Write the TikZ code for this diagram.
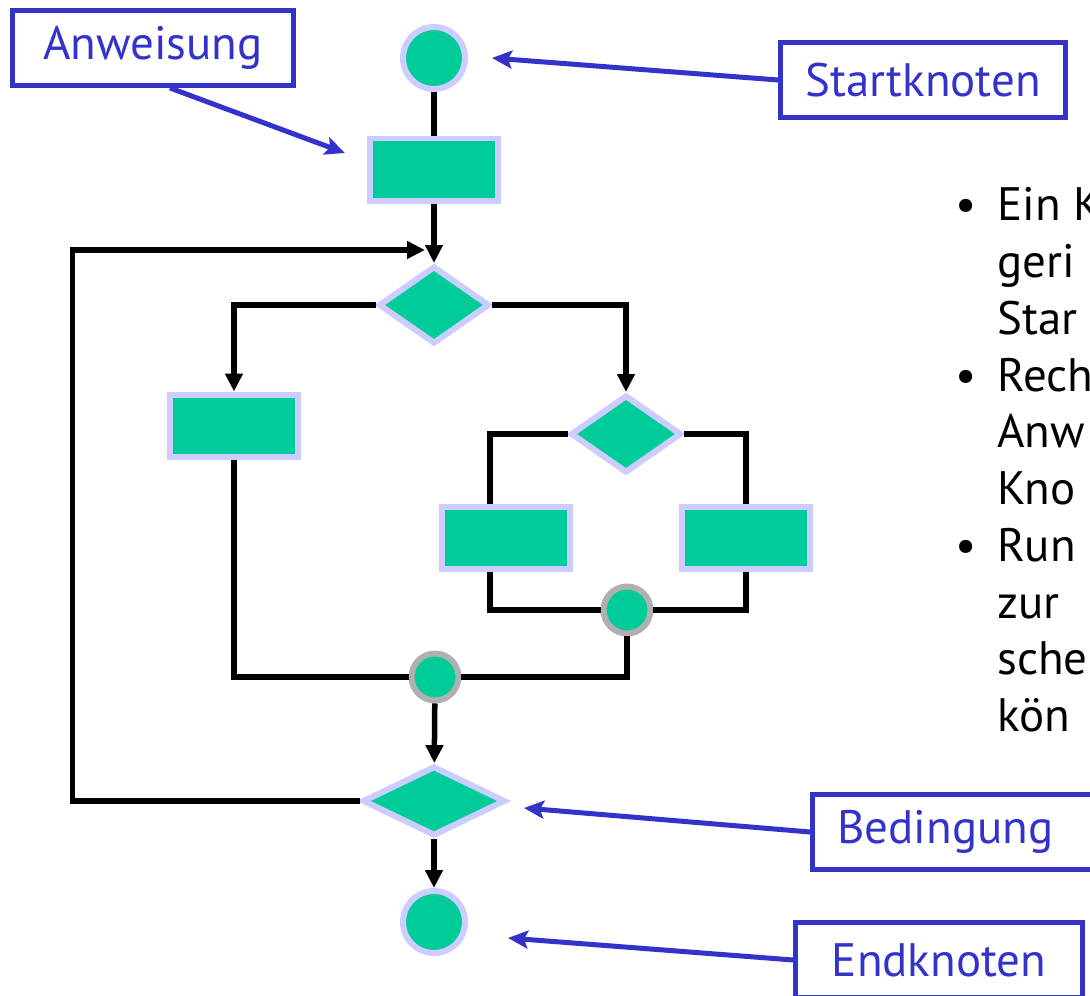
\documentclass[tikz,border=0pt]{standalone}
\usepackage{fontspec}
\setmainfont{PT Sans}
\usepackage{xcolor}
\usepackage{tikz}
\usetikzlibrary{shapes.geometric, arrows.meta, positioning}

\definecolor{flgreen}{HTML}{00CC99}
\definecolor{flrim}{HTML}{CCCCFF}
\definecolor{flgray}{HTML}{B0B0B0}
\definecolor{flblue}{HTML}{3333CC}

\begin{document}
\begin{tikzpicture}[
            x=0.02cm, y=-0.02cm,
            font=\fontsize{26.7}{32.3}\selectfont,
            act/.style={rectangle, draw=flrim, fill=flgreen, line width=0.12cm, minimum width=2.56cm, minimum height=1.26cm},
            cond/.style={diamond, draw=flrim, fill=flgreen, line width=0.12cm, inner sep=0pt, minimum width=2.22cm, minimum height=1.56cm},
            term/.style={circle, draw=flrim, fill=flgreen, line width=0.12cm, inner sep=0pt, minimum size=1.24cm},
            merge/.style={circle, draw=flgray, fill=flgreen, line width=0.12cm, inner sep=0pt, minimum size=0.94cm},
            link/.style={line width=0.11cm},
            flow/.style={line width=0.11cm, -{Triangle[length=0.36cm, width=0.34cm]}},
            note/.style={rectangle, draw=flblue, line width=0.1cm, text=flblue, fill=white, minimum height=1.5cm},
            pointer/.style={draw=flblue, line width=0.1cm, -{Stealth[length=0.4cm, width=0.36cm, inset=0.08cm]}}
        ]
        \useasboundingbox (0,0) rectangle (1090,996);

        % Flowchart nodes
        \node[term] (start) at (434,58) {};
        \node[act] (s1) at (434,170) {};
        \node[cond] (d1) at (434,305) {};
        \node[act] (s2) at (234,426) {};
        \node[cond] (d2) at (626,434) {};
        \node[act] (s3) at (506,538) {};
        \node[act] (s4) at (746,538) {};
        \node[merge] (m2) at (627,610) {};
        \node[merge] (m1) at (435,677) {};
        \node[cond, minimum width=2.86cm, minimum height=1.4cm] (d3) at (434,801) {};
        \node[term] (end) at (434,922) {};

        % Connections
        \draw[link] (start) -- (s1);
        \draw[flow] (s1) -- (d1);
        \draw[flow] (d1.west) -| (s2.north);
        \draw[flow] (d1.east) -| (d2.north);
        \draw[link] (d2.west) -| ([xshift=-0.32cm]s3.north);
        \draw[link] (d2.east) -| (s4.north);
        \draw[link] ([xshift=-0.32cm]s3.south) |- (m2.west);
        \draw[link] (s4.south) |- (m2.east);
        \draw[link] (s2.south) |- (m1.west);
        \draw[link] (m2.south) |- (m1.east);
        \draw[flow] (m1) -- (d3);
        \draw[flow] (d3) -- (end);

        % Loop back
        \coordinate (loopin) at (425,250);
        \draw[flow] (d3.west) -- ++(-287,0) |- (loopin);

        % Labels
        \node[note, minimum width=5.64cm] (anw) at (153,48) {Anweisung};
        \node[note, minimum width=5.7cm] (stk) at (923,80) {Startknoten};
        \node[note, anchor=west, inner xsep=0.5cm, text width=5cm, align=left] (bed) at (810,832) {Bedingung};
        \node[note, minimum width=5.74cm] (enk) at (939,960) {Endknoten};

        \coordinate (anwtip) at (345,153);
        \coordinate (stktip) at (492,58);
        \coordinate (bedtip) at (524,808);
        \coordinate (enktip) at (508,938);
        \draw[pointer] ([xshift=0.34cm]anw.south) -- (anwtip);
        \draw[pointer] (stk.west) -- (stktip);
        \draw[pointer] (bed.west) -- (bedtip);
        \draw[pointer] (enk.west) -- (enktip);

        % Side text
        \node[anchor=base west, inner sep=0pt] (txt) at (955,221) {%
            \begin{tabular}[t]{@{}l@{}l@{}}
            \makebox[0.84cm][l]{\textbullet} & Ein K\\
            & geri\\
            & Star\\
            \makebox[0.84cm][l]{\textbullet} & Rech\\
            & Anw\\
            & Kno\\
            \makebox[0.84cm][l]{\textbullet} & Run\\
            & zur\\
            & sche\\
            & kön
            \end{tabular}};

    \end{tikzpicture}
\end{document}
